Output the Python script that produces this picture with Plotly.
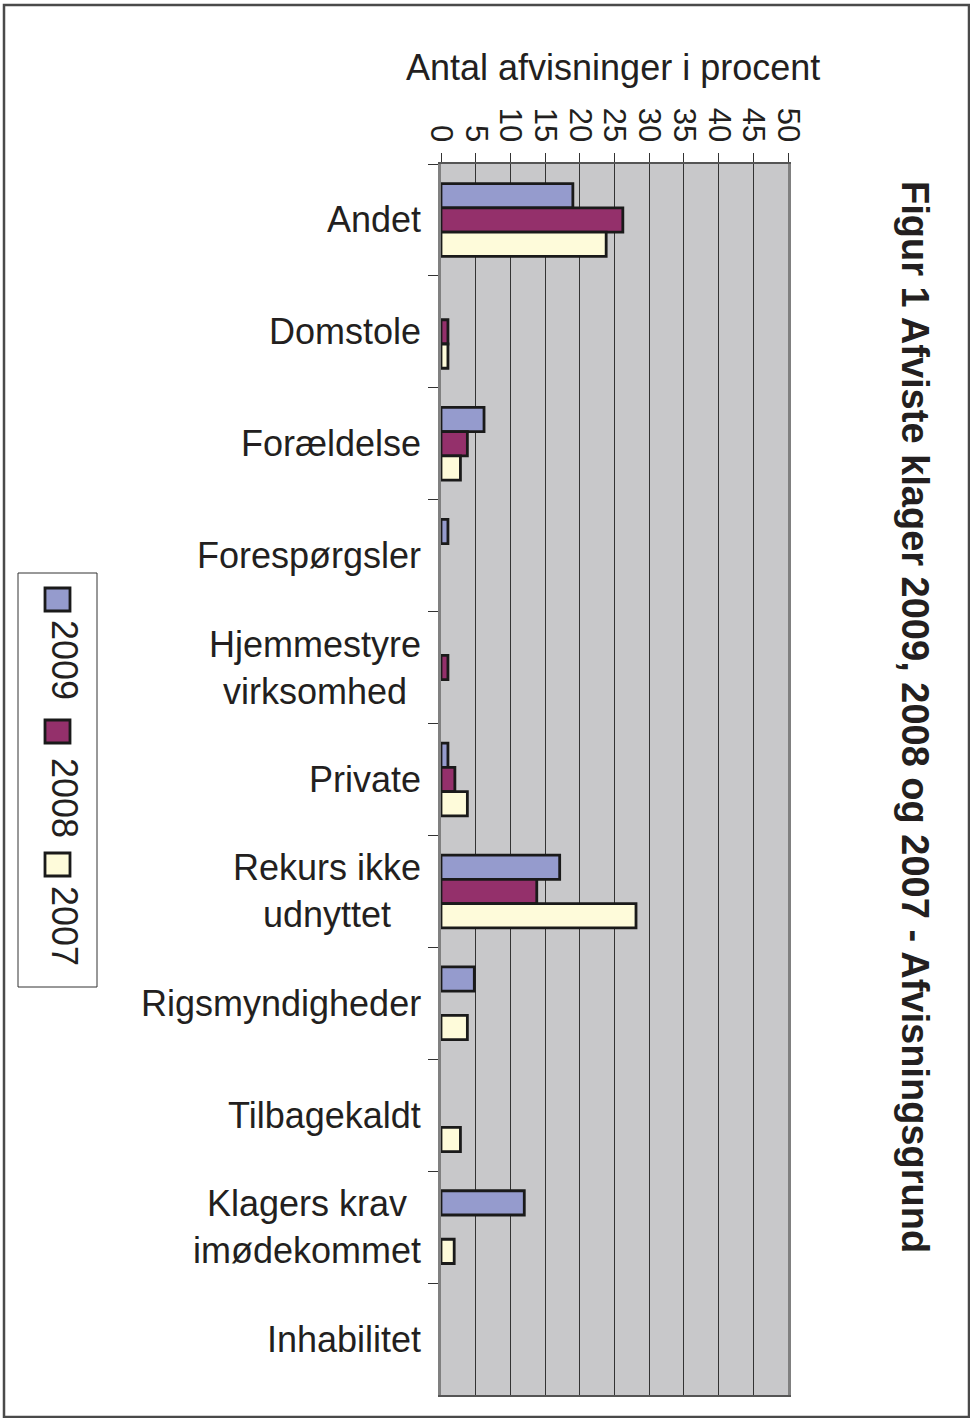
import plotly.graph_objects as go

categories = [
    "Andet", "Domstole", "Forældelse", "Forespørgsler",
    "Hjemmestyre<br>virksomhed", "Private", "Rekurs ikke<br>udnyttet",
    "Rigsmyndigheder", "Tilbagekaldt", "Klagers krav<br>imødekommet",
    "Inhabilitet",
]
years = ["2009", "2008", "2007"]
values_2009 = [19.0, None, 6.2, 1.0, None, 1.0, 17.1, 4.8, None, 12.0, None]
values_2008 = [26.2, 1.0, 3.8, None, 1.0, 2.0, 13.8, None, None, None, None]
values_2007 = [23.8, 1.0, 2.8, None, None, 3.8, 28.1, 3.8, 2.8, 1.9, None]
x_ticks = list(range(0, 55, 5))

colors = {"2009": "#959BCD", "2008": "#94306B", "2007": "#FEFBDA"}
text_color = "#231F20"
font_family = "Liberation Sans, Arial, sans-serif"

W, H = 970, 1418
PL, PR, PT, PB = 441, 788, 164, 1395


def px_x(px):
    return (px - PL) / (PR - PL)


def px_y(py):
    return (PB - py) / (PB - PT)


def add_text(fig, x, y, text, size, angle=0):
    fig.add_annotation(
        x=px_x(x), y=px_y(y), xref="paper", yref="paper",
        xanchor="center", yanchor="middle",
        text=text, textangle=angle, showarrow=False,
        font=dict(size=size, color=text_color, family=font_family),
    )


fig = go.Figure()
for year, vals in zip(years, [values_2009, values_2008, values_2007]):
    fig.add_bar(
        y=categories,
        x=vals,
        orientation="h",
        name=year,
        marker=dict(color=colors[year], line=dict(color="#1A1A1A", width=2.8)),
        showlegend=False,
    )

# category labels, centred per line
for cat in categories:
    fig.add_annotation(
        x=0, xref="paper", y=cat, yref="y",
        xanchor="right", yanchor="middle", xshift=-18, align="center",
        text=cat, showarrow=False,
        font=dict(size=36, color=text_color, family=font_family),
    )

add_text(fig, 613, 68, "Antal afvisninger i procent", 36)
add_text(fig, 915, 717,
         "<b>Figur 1 Afviste klager 2009, 2008 og 2007 - Afvisningsgrund</b>",
         38, angle=90)

# legend, rotated like the rest of the page
shapes = [
    dict(type="rect", xref="paper", yref="paper",
         x0=px_x(4), x1=px_x(969), y0=px_y(5), y1=px_y(1417),
         line=dict(color="#4A4A4A", width=2.5)),
    dict(type="rect", xref="paper", yref="paper",
         x0=px_x(18), x1=px_x(97), y0=px_y(573), y1=px_y(987),
         line=dict(color="#333333", width=1)),
]
legend_items = [("2009", 588, 660), ("2008", 720, 798), ("2007", 853, 926)]
for year, sq_top, text_mid in legend_items:
    shapes.append(dict(
        type="rect", xref="paper", yref="paper",
        x0=px_x(45), x1=px_x(70), y0=px_y(sq_top), y1=px_y(sq_top + 23),
        fillcolor=colors[year], line=dict(color="#1A1A1A", width=2.8),
    ))
    add_text(fig, 65, text_mid, year, 36, angle=90)

fig.update_layout(
    width=W, height=H,
    margin=dict(l=PL, r=W - PR, t=PT, b=H - PB),
    paper_bgcolor="white",
    plot_bgcolor="#C8C8CA",
    barmode="group",
    bargap=0.35,
    bargroupgap=0,
    shapes=shapes,
    font=dict(family=font_family, color=text_color),
    xaxis=dict(
        side="top", range=[0, 50], tickvals=x_ticks,
        tickangle=90, ticks="outside", ticklen=9, tickcolor="#333333",
        tickfont=dict(size=31, color=text_color),
        showgrid=True, gridcolor="#333333", gridwidth=1,
        showline=True, linecolor="#555555", linewidth=2, mirror=True,
        zeroline=False, fixedrange=True,
    ),
    yaxis=dict(
        autorange="reversed", showticklabels=False,
        ticks="outside", tickson="boundaries", ticklen=10, tickcolor="#333333",
        showline=True, linecolor="#808080", linewidth=3, mirror=True,
        showgrid=False, fixedrange=True,
    ),
)

fig.write_html(
    "out.html",
    config={"displayModeBar": False},
    post_script="document.body.style.margin='0';",
)
